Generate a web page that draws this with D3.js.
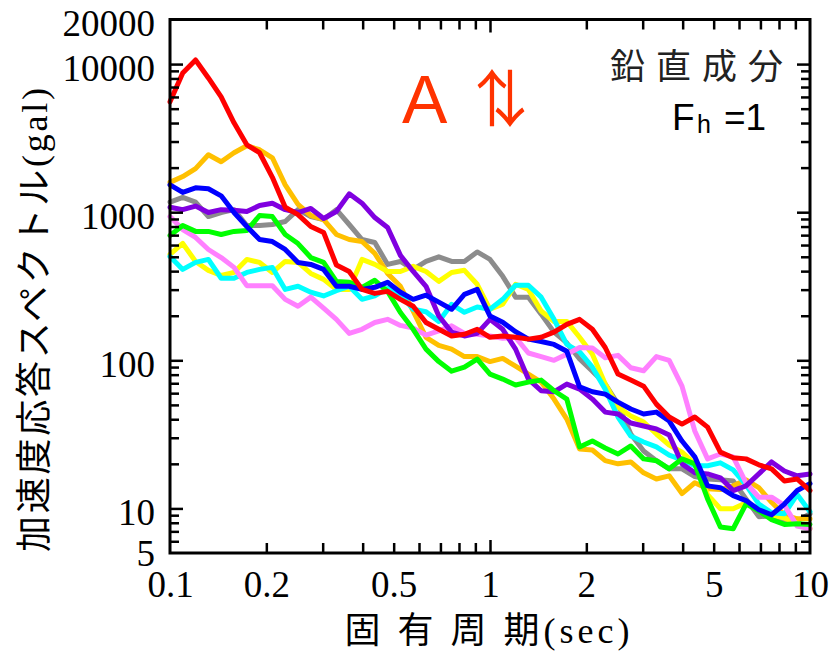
<!DOCTYPE html>
<html>
<head>
<meta charset="utf-8">
<script src="https://cdn.jsdelivr.net/npm/d3@7"></script>
<style>
  body { margin: 0; background: #fff; }
  svg { display: block; }
</style>
</head>
<body>
<div id="chart"></div>
<script>
// natural period (sec), shared by every record
const periods = [0.1, 0.1096, 0.1202, 0.1318, 0.1445, 0.1585, 0.1738, 0.1905, 0.2089, 0.2291,
  0.2512, 0.2754, 0.302, 0.3311, 0.3631, 0.3981, 0.4365, 0.4786, 0.5248, 0.5754,
  0.631, 0.6918, 0.7586, 0.8318, 0.912, 1.0, 1.096, 1.202, 1.318, 1.445,
  1.585, 1.738, 1.905, 2.089, 2.291, 2.512, 2.754, 3.02, 3.311, 3.631,
  3.981, 4.365, 4.786, 5.248, 5.754, 6.31, 6.918, 7.586, 8.318, 9.12, 10.0];

// acceleration response (gal), one array per record
const recGray = [1170, 1260, 1170, 934, 995, 1040, 813, 813, 826, 865, 1040, 934, 892, 1040, 826, 654, 624, 444, 465, 411,
  465, 500, 465, 465, 539, 480, 369, 267, 267, 205, 155, 131, 102, 84.5, 69.1, 50.6, 31.8, 24.4, 21.0, 18.5,
  18.5, 16.4, 15.8, 15.6, 15.3, 11.6, 8.8, 8.9, 8.2, 8.2, 9.2];
const recGold = [1590, 1740, 1970, 2440, 2190, 2520, 2810, 2640, 2330, 1530, 1130, 950, 892, 707, 654, 634, 527, 386, 316, 215,
  143, 126, 119, 106, 106, 98, 103, 91.3, 80.7, 71.3, 54.7, 40.1, 25.2, 24.8, 21.0, 20.0, 20.6, 17.4, 15.8, 16.6,
  12.6, 14.9, 13.6, 13.4, 14.2, 15.6, 13.8, 11.0, 9.06, 8.51, 8.51];
const recYellow = [519, 615, 465, 405, 374, 392, 480, 458, 392, 465, 458, 386, 352, 301, 301, 480, 444, 398, 398, 431,
  398, 341, 392, 405, 326, 221, 239, 326, 301, 215, 183, 183, 143, 110, 69.1, 48.4, 42.1, 38.3, 31.8, 26.8,
  24.0, 20.0, 12.4, 9.95, 9.95, 10.9, 9.95, 9.06, 8.6, 7.95, 7.29];
const recCyan = [503, 411, 458, 480, 358, 358, 392, 411, 424, 301, 316, 288, 272, 295, 316, 258, 272, 306, 279, 221,
  213, 183, 239, 211, 229, 221, 258, 321, 321, 267, 189, 128, 114, 89.8, 63.9, 41.4, 30.8, 28.1, 26.0, 22.9,
  21.3, 19.4, 19.4, 20.3, 18.2, 14.4, 10.7, 9.35, 9.2, 12.4, 9.5];
const recPink = [934, 764, 675, 560, 494, 424, 319, 319, 319, 258, 232, 267, 225, 189, 152, 162, 180, 189, 172, 165,
  148, 158, 171, 152, 150, 146, 141, 143, 112, 106, 100, 110, 122, 121, 104, 108, 89.1, 85.0, 106, 100,
  66.9, 33.3, 21.6, 23.3, 22.3, 14.9, 11.9, 11.9, 10.5, 7.6, 7.29];
const recPurple = [1080, 1040, 1100, 995, 1040, 1030, 1010, 1110, 1150, 1040, 995, 1060, 906, 1010, 1330, 1150, 920, 789, 511, 398,
  316, 199, 155, 146, 152, 189, 162, 119, 74.7, 62.3, 61.3, 69.1, 63.9, 54.7, 44.7, 43.4, 37.7, 36.0, 34.4, 31.3,
  20.0, 17.4, 17.1, 16.1, 13.2, 14.2, 17.1, 20.6, 17.9, 16.6, 17.1];
const recGreen = [696, 813, 742, 742, 707, 742, 752, 950, 934, 707, 614, 494, 458, 341, 336, 311, 347, 292, 210, 162,
  119, 98, 84.5, 89.8, 102, 80.7, 74.7, 68.1, 71.3, 73.5, 62.3, 54.7, 26.0, 28.5, 25.6, 23.3, 26.4, 21.6, 21.0, 18.5,
  21.6, 20.0, 11.6, 7.5, 7.29, 10.7, 9.65, 8.4, 7.8, 7.88, 7.8];
const recBlue = [1530, 1360, 1460, 1440, 1290, 995, 800, 654, 634, 560, 458, 444, 411, 316, 316, 301, 311, 336, 288, 258,
  275, 247, 221, 279, 301, 199, 181, 156, 139, 134, 128, 115, 66.2, 61.3, 59.1, 52.2, 46.9, 43.4, 44.7, 38.9,
  28.5, 22.3, 14.2, 13.8, 12.2, 11.3, 9.8, 9.06, 10.7, 13.2, 14.7];
const recRed = [5560, 8710, 10660, 8060, 6000, 4010, 2850, 2520, 1720, 1080, 964, 800, 730, 440, 398, 301, 283, 292, 258, 232,
  180, 162, 146, 150, 162, 143, 146, 143, 139, 143, 155, 175, 189, 162, 122, 80.7, 73.5, 66.9, 50.6, 41.4,
  37.1, 41.4, 35.4, 24.0, 22.0, 21.6, 19.7, 18.5, 15.3, 15.8, 13.2];

// tick values / labels
const xLabels = [0.1, 0.2, 0.5, 1, 2, 5, 10];
const xMajor = [1];
const xMinor = [0.2, 0.3, 0.4, 0.5, 0.6, 0.7, 0.8, 0.9, 2, 3, 4, 5, 6, 7, 8, 9];
const yLabels = [5, 10, 100, 1000, 10000, 20000];
const yMajor = [10, 100, 1000, 10000];
const yMinor = [6, 7, 8, 9, 20, 30, 40, 50, 60, 70, 80, 90, 200, 300, 400, 500, 600, 700, 800, 900,
  2000, 3000, 4000, 5000, 6000, 7000, 8000, 9000];

// drawing order, bottom first
const records = [recGray, recGold, recYellow, recCyan, recPink, recPurple, recGreen, recBlue, recRed];
const colors = ["#8c8c8c", "#ffc000", "#ffff00", "#00ffff", "#ff80ff", "#8000e0", "#00ff00", "#0000ff", "#ff0000"];

const width = 830, height = 652;
const plot = { left: 170, right: 810, top: 19.5, bottom: 553 };
const serif = "'Liberation Serif', 'Noto Sans CJK JP', serif";
const cjk = "'Noto Sans CJK JP', sans-serif";

const svg = d3.select("#chart").append("svg")
  .attr("width", width)
  .attr("height", height);

const x = d3.scaleLog().domain([0.1, 10]).range([plot.left, plot.right]);
const y = d3.scaleLog().domain([5, 20000]).range([plot.bottom, plot.top]);

// spectra
const line = d3.line()
  .x((d, i) => x(periods[i]))
  .y(d => y(d));

svg.append("g")
  .selectAll("path")
  .data(records)
  .join("path")
  .attr("d", line)
  .attr("fill", "none")
  .attr("stroke", (d, i) => colors[i])
  .attr("stroke-width", 5)
  .attr("stroke-linejoin", "round")
  .attr("stroke-linecap", "round");

// inward ticks on all four sides
function ticks(axis, values, size, tx, ty) {
  svg.append("g")
    .attr("transform", `translate(${tx},${ty})`)
    .call(axis.tickValues(values).tickSize(size).tickFormat(""))
    .call(g => g.select(".domain").remove())
    .call(g => g.selectAll("line").attr("stroke", "#000").attr("stroke-width", 2.5));
}
ticks(d3.axisLeft(y), yMajor, -13, plot.left, 0);
ticks(d3.axisLeft(y), yMinor, -9, plot.left, 0);
ticks(d3.axisRight(y), yMajor, -13, plot.right, 0);
ticks(d3.axisRight(y), yMinor, -9, plot.right, 0);
ticks(d3.axisBottom(x), xMajor, -13, 0, plot.bottom);
ticks(d3.axisBottom(x), xMinor, -10, 0, plot.bottom);
ticks(d3.axisTop(x), xMajor, -13, 0, plot.top);
ticks(d3.axisTop(x), xMinor, -10, 0, plot.top);

// frame
svg.append("rect")
  .attr("x", plot.left)
  .attr("y", plot.top)
  .attr("width", plot.right - plot.left)
  .attr("height", plot.bottom - plot.top)
  .attr("fill", "none")
  .attr("stroke", "#000")
  .attr("stroke-width", 3);

// tick labels
svg.append("g")
  .attr("transform", `translate(${plot.left},0)`)
  .call(d3.axisLeft(y).tickValues(yLabels).tickSize(0).tickPadding(15).tickFormat(d => String(d)))
  .call(g => g.select(".domain").remove())
  .attr("font-family", serif)
  .attr("font-size", 37)
  .call(g => g.selectAll("text").attr("fill", "#000").attr("dy", d => (d === 5 ? "0.33em" : "0.43em")));

svg.append("g")
  .attr("transform", `translate(0,${plot.bottom})`)
  .call(d3.axisBottom(x).tickValues(xLabels).tickSize(0).tickPadding(18).tickFormat(d => String(d)))
  .call(g => g.select(".domain").remove())
  .attr("font-family", serif)
  .attr("font-size", 37)
  .call(g => g.selectAll("text").attr("fill", "#000"));

// axis titles
svg.append("text")
  .attr("transform", "translate(47,320) rotate(-90)")
  .attr("text-anchor", "middle")
  .attr("font-family", serif)
  .attr("font-size", 36)
  .attr("textLength", 464)
  .attr("lengthAdjust", "spacing")
  .text("加速度応答スペクトル(gal)");

svg.append("text")
  .attr("x", 487)
  .attr("y", 643)
  .attr("text-anchor", "middle")
  .attr("font-family", serif)
  .attr("font-size", 36)
  .attr("textLength", 285)
  .attr("lengthAdjust", "spacing")
  .text("固 有 周 期(sec)");

// annotations
svg.append("text")
  .attr("x", 402)
  .attr("y", 123)
  .attr("font-family", "'Liberation Sans', sans-serif")
  .attr("font-size", 68)
  .attr("fill", "#ff3300")
  .text("A");

// up and down arrows drawn as one text, pulled together
svg.append("text")
  .attr("x", 461)
  .attr("y", 122)
  .attr("font-family", cjk)
  .attr("font-size", 62)
  .attr("letter-spacing", -44)
  .attr("fill", "#ff3300")
  .text("↑↓");

svg.append("text")
  .attr("x", 610)
  .attr("y", 79)
  .attr("font-family", cjk)
  .attr("font-size", 35)
  .attr("textLength", 173)
  .attr("lengthAdjust", "spacing")
  .attr("fill", "#222")
  .text("鉛直成分");

const fh = svg.append("text")
  .attr("y", 130)
  .attr("font-family", "'Liberation Sans', sans-serif")
  .attr("font-size", 37)
  .attr("fill", "#000");
fh.append("tspan").attr("x", 672).text("F");
fh.append("tspan").attr("x", 697).attr("dy", 3).attr("font-size", 25).text("h");
fh.append("tspan").attr("x", 724).attr("dy", -3).text("=1");
</script>
</body>
</html>
